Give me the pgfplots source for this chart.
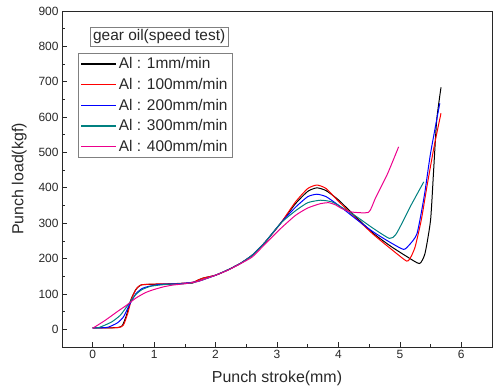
\documentclass[border=0pt]{standalone}
\usepackage{pgfplots}
\pgfplotsset{compat=1.18}
\usepackage{fontspec}
\setmainfont{Liberation Sans}
\definecolor{tealc}{RGB}{0,128,128}
\definecolor{axc}{RGB}{40,40,40}
\begin{document}
\begin{tikzpicture}
\useasboundingbox (-62bp,-45bp) rectangle (434bp,347bp);
\begin{axis}[
  at={(0,0)}, anchor=south west,
  scale only axis, width=430bp, height=336bp,
  xmin=-0.5, xmax=6.5, ymin=-50, ymax=900,
  xtick={0,1,...,6}, ytick={0,100,...,900},
  minor xtick={-0.5,0.5,1.5,2.5,3.5,4.5,5.5,6.5},
  minor ytick={-50,50,150,250,350,450,550,650,750,850},
  tick align=inside, major tick length=5bp, minor tick length=3bp,
  xtick pos=bottom, ytick pos=left,
  axis line style={axc, line width=0.9pt},
  tick style={axc, line width=0.7pt},
  /pgf/number format/assume math mode=true,
  ticklabel style={font=\fontsize{12}{14}\selectfont, text=axc},
  xlabel={Punch stroke(mm)}, ylabel={Punch load(kgf)},
  label style={font=\fontsize{16}{18}\selectfont, text=axc},
  xlabel style={yshift=-5bp},
  ylabel style={yshift=5bp},
  legend cell align=left,
  legend style={at={(rel axis cs:0.037,0.875)}, anchor=north west, draw=gray,
    font=\fontsize{15.5}{17}\selectfont, text=axc, row sep=4bp, inner sep=2.5bp},
  legend image code/.code={\draw[#1, sharp plot, line width=1.3pt] (0bp,0bp) -- (35bp,0bp);},
  every axis plot/.append style={line width=1pt, smooth, tension=0.35},
]
\addplot[black] coordinates {(0,4)(0.2,4)(0.4,5)(0.48,10)(0.55,40)(0.62,83)(0.7,112)(0.78,125)(0.9,127)(1.2,128)(1.5,130)(1.63,131)(1.7,138)(1.8,145)(2.0,153)(2.2,168)(2.41,187)(2.6,210)(2.8,245)(3.06,300)(3.3,355)(3.5,390)(3.65,400)(3.8,392)(4.0,366)(4.3,315)(4.57,271)(4.85,235)(5.12,205)(5.32,186)(5.41,215)(5.5,309)(5.55,450)(5.6,592)(5.67,684)};
\addlegendentry{Al : 1mm/min}
\addplot[red] coordinates {(0,4)(0.2,4)(0.42,5)(0.5,12)(0.57,45)(0.64,90)(0.72,117)(0.8,126)(1.0,128)(1.3,129)(1.6,132)(1.7,138)(1.8,145)(2.0,153)(2.2,168)(2.41,187)(2.6,210)(2.8,245)(3.06,300)(3.3,360)(3.5,398)(3.65,408)(3.8,398)(4.0,362)(4.3,312)(4.57,268)(4.85,228)(5.11,193)(5.18,205)(5.25,234)(5.35,310)(5.44,403)(5.55,510)(5.62,570)(5.67,611)};
\addlegendentry{Al : 100mm/min}
\addplot[blue] coordinates {(0,4)(0.1,4)(0.25,6)(0.4,18)(0.5,35)(0.6,70)(0.7,100)(0.8,115)(0.9,121)(1.1,127)(1.4,129)(1.7,135)(2.0,153)(2.2,168)(2.41,187)(2.6,210)(2.8,245)(3.06,300)(3.3,345)(3.5,375)(3.65,382)(3.8,375)(4.0,351)(4.3,310)(4.57,275)(4.85,245)(5.06,226)(5.15,238)(5.28,271)(5.4,380)(5.5,498)(5.65,639)};
\addlegendentry{Al : 200mm/min}
\addplot[tealc] coordinates {(0,4)(0.1,5)(0.3,20)(0.45,40)(0.6,75)(0.7,98)(0.8,112)(0.95,122)(1.2,127)(1.5,129)(1.7,135)(2.0,153)(2.2,168)(2.41,187)(2.6,210)(2.8,245)(3.06,300)(3.3,335)(3.5,358)(3.71,365)(3.9,360)(4.1,340)(4.3,318)(4.57,285)(4.83,257)(4.93,267)(5.05,305)(5.17,347)(5.39,417)};
\addlegendentry{Al : 300mm/min}
\addplot[magenta] coordinates {(0,3)(0.2,25)(0.4,50)(0.55,68)(0.7,88)(0.85,103)(0.97,111)(1.15,120)(1.3,125)(1.5,129)(1.7,135)(2.0,153)(2.2,167)(2.41,186)(2.6,205)(2.8,240)(3.06,285)(3.3,322)(3.5,343)(3.7,355)(3.84,358)(3.95,352)(4.05,342)(4.2,332)(4.49,331)(4.6,370)(4.8,440)(4.98,516)};
\addlegendentry{Al : 400mm/min}
\node[draw=gray, fill=white, text=axc, font=\fontsize{15.5}{17}\selectfont, inner sep=2.5bp] at (rel axis cs:0.226,0.924) {gear oil(speed test)};
\end{axis}
\end{tikzpicture}
\end{document}
